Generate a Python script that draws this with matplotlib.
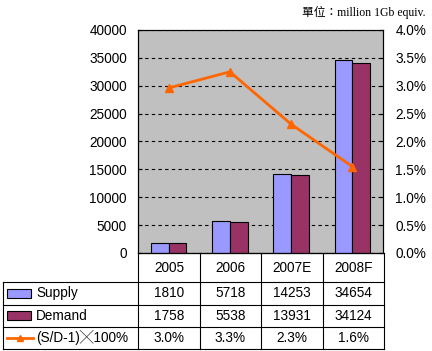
import matplotlib.pyplot as plt
from matplotlib.patches import Rectangle
from matplotlib.ticker import FuncFormatter

# data
years = ["2005", "2006", "2007E", "2008F"]
supply = [1810, 5718, 14253, 34654]
demand = [1758, 5538, 13931, 34124]
ratio = [2.96, 3.25, 2.31, 1.55]          # (S/D-1)x100, percent
ratio_labels = ["3.0%", "3.3%", "2.3%", "1.6%"]
series_names = ["Supply", "Demand", "(S/D-1)╳100%"]

c_sup = "#9999FF"
c_dem = "#993366"
c_line = "#FF6600"
c_bg = "#C0C0C0"

W, H = 432, 351
fig = plt.figure(figsize=(W / 100, H / 100), dpi=100)
plt.rcParams['font.family'] = ['Liberation Sans', 'Noto Sans CJK TC', 'DejaVu Sans']
FS = 9.8


def px_rect(x0, y0, x1, y1):
    return [x0 / W, 1 - y1 / H, (x1 - x0) / W, (y1 - y0) / H]


# ---------------------------------------------------
# main chart
# ---------------------------------------------------
ax = fig.add_axes(px_rect(138, 30, 383, 253))
ax.set_facecolor(c_bg)
x = range(len(years))
bw = 0.29
ax.bar([i - bw / 2 for i in x], supply, bw, color=c_sup, edgecolor="black", lw=0.8, zorder=3)
ax.bar([i + bw / 2 for i in x], demand, bw, color=c_dem, edgecolor="black", lw=0.8, zorder=3)
ax.set_xlim(-0.5, 3.5)
ax.set_ylim(0, 40000)
ax.set_yticks(range(0, 40001, 5000))
ax.set_xticks([])
ax.yaxis.grid(True, color="black", ls=(0, (3, 3)), lw=0.8, zorder=1)
ax.tick_params(axis="y", labelsize=FS, length=3, direction="in", pad=8)
for s in ax.spines.values():
    s.set_linewidth(0.8)

ax2 = ax.twinx()
ax2.plot(list(x), ratio, color=c_line, lw=2, marker="^", ms=6, zorder=5)
ax2.set_ylim(0, 4)
ax2.set_yticks([i * 0.5 for i in range(9)])
ax2.yaxis.set_major_formatter(FuncFormatter(lambda v, p: f"{v:.1f}%"))
ax2.tick_params(axis="y", labelsize=FS, length=3, direction="in", pad=9)

fig.text(425 / W, 1 - 12 / H, "單位：million 1Gb equiv.", ha="right", va="center",
         fontsize=8.5, family=['Liberation Serif', 'Noto Sans CJK TC'])

# ---------------------------------------------------
# data table below
# ---------------------------------------------------
colw = (383 - 138) / 4
left = -0.5 - (138 - 3) / colw
at = fig.add_axes(px_rect(3, 253, 384, 349))
at.set_xlim(left, 3.5)
at.set_ylim(95, 0)   # pixel rows
at.axis("off")
rows = [0, 29, 51, 73, 95]
lk = dict(color="black", lw=0.8, clip_on=False)
at.plot([-0.5, -0.5], [0, 95], **lk)
at.plot([left, left], [29, 95], **lk)
for i in range(1, 5):
    at.plot([-0.5 + i, -0.5 + i], [0, 95], **lk)
at.plot([-0.5, 3.5], [0, 0], **lk)
for r in rows[1:]:
    at.plot([left, 3.5], [r, r], **lk)

for i, yr in enumerate(years):
    at.text(i, 14.5, yr, ha="center", va="center", fontsize=FS)
    at.text(i, 40, str(supply[i]), ha="center", va="center", fontsize=FS)
    at.text(i, 62, str(demand[i]), ha="center", va="center", fontsize=FS)
    at.text(i, 84, ratio_labels[i], ha="center", va="center", fontsize=FS)

kx0 = left + 4 / colw
kx1 = left + 28 / colw
at.add_patch(Rectangle((kx0, 35.5), kx1 - kx0, 9, facecolor=c_sup, edgecolor="black", lw=0.8))
at.add_patch(Rectangle((kx0, 57.5), kx1 - kx0, 9, facecolor=c_dem, edgecolor="black", lw=0.8))
at.plot([kx0, left + 30 / colw], [84, 84], color=c_line, lw=2)
at.plot([left + 17 / colw], [84], color=c_line, marker="^", ms=5)
tx = left + 33 / colw
at.text(tx, 40, series_names[0], ha="left", va="center", fontsize=FS)
at.text(tx, 62, series_names[1], ha="left", va="center", fontsize=FS)
at.text(tx, 84, series_names[2], ha="left", va="center", fontsize=FS)

fig.savefig("out.png", dpi=100)
